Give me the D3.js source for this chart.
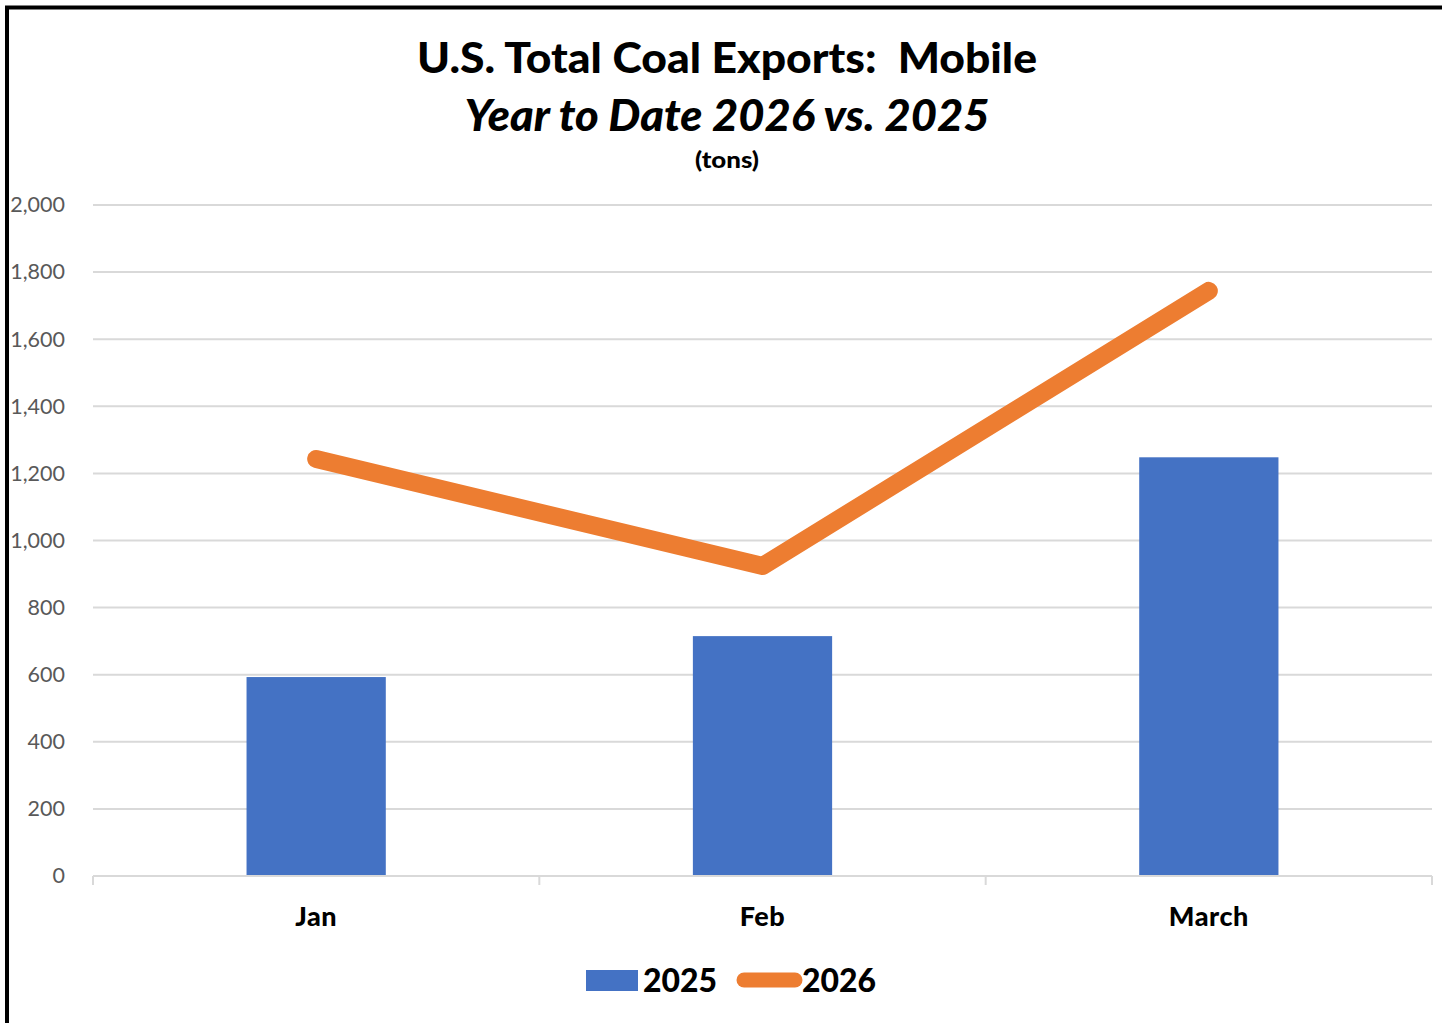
<!DOCTYPE html>
<html><head><meta charset="utf-8">
<script src="https://cdn.jsdelivr.net/npm/d3@7"></script>
<style>body{margin:0;background:#fff}svg{display:block}</style>
</head><body>
<script>
const categories = ["Jan", "Feb", "March"];
const values2025 = [593, 715, 1248];
const values2026 = [1243, 924, 1744];
const yTicks = [0, 200, 400, 600, 800, 1000, 1200, 1400, 1600, 1800, 2000];
const seriesNames = ["2025", "2026"];
const titleLines = ["U.S. Total Coal Exports:  Mobile", "Year to Date 2026 vs. 2025", "(tons)"];

const W = 1442, H = 1023;
const svg = d3.select("body").append("svg").attr("width", W).attr("height", H);
const font = "Lato, 'Open Sans', sans-serif";

// frame
svg.append("rect").attr("x", 7).attr("y", 7.5).attr("width", W + 20).attr("height", H + 20)
  .attr("fill", "none").attr("stroke", "#000").attr("stroke-width", 4);

const x = d3.scaleBand().domain(categories).range([93, 1432]).paddingInner(0.688).paddingOuter(0.344);
const xc = d => d3.scalePoint().domain(categories).range([93, 1432]).padding(0.5)(d);
const y = d3.scaleLinear().domain([0, 2000]).range([876, 205]);

// gridlines
svg.append("g").selectAll("line").data(yTicks.filter(t => t > 0)).join("line")
  .attr("x1", 93).attr("x2", 1432).attr("y1", d => y(d)).attr("y2", d => y(d))
  .attr("stroke", "#d9d9d9").attr("stroke-width", 2);

// y axis labels
const yAxis = d3.axisLeft(y).tickValues(yTicks).tickSize(0).tickPadding(0).tickFormat(d3.format(","));
const gy = svg.append("g").attr("transform", "translate(65,0)").call(yAxis);
gy.select(".domain").remove();
gy.selectAll("text").attr("font-family", font).attr("font-size", 21.5).attr("fill", "#595959");

// bars
svg.append("g").selectAll("rect").data(values2025).join("rect")
  .attr("x", (d, i) => x(categories[i])).attr("width", x.bandwidth())
  .attr("y", d => y(d)).attr("height", d => y(0) - y(d)).attr("fill", "#4472c4");

// x axis
const xTickScale = d3.scaleLinear().domain([0, 3]).range([93, 1432]);
const gx = svg.append("g").attr("transform", "translate(0,876)");
gx.append("line").attr("x1", 93).attr("x2", 1432).attr("stroke", "#d9d9d9").attr("stroke-width", 2);
gx.selectAll("line.tk").data([0, 1, 2, 3]).join("line").attr("class", "tk")
  .attr("x1", d => xTickScale(d)).attr("x2", d => xTickScale(d)).attr("y1", 0).attr("y2", 9)
  .attr("stroke", "#d9d9d9").attr("stroke-width", 2);
gx.selectAll("text").data(categories).join("text")
  .attr("x", d => xc(d)).attr("y", 50).attr("text-anchor", "middle")
  .attr("font-family", font).attr("font-weight", "900").attr("font-size", 27).attr("fill", "#000")
  .attr("letter-spacing", 0.5)
  .text(d => d);

// line
const line = d3.line().x((d, i) => xc(categories[i])).y(d => y(d));
svg.append("path").datum(values2026).attr("d", line).attr("fill", "none")
  .attr("stroke", "#ed7d31").attr("stroke-width", 18).attr("stroke-linecap", "round").attr("stroke-linejoin", "round");

// title
svg.append("text").attr("x", 727).attr("y", 73).attr("text-anchor", "middle")
  .attr("font-family", font).attr("font-weight", "900").attr("font-size", 42).attr("fill", "#000")
  .attr("textLength", 620).attr("lengthAdjust", "spacingAndGlyphs").style("white-space", "pre").text(titleLines[0]);
svg.append("text").attr("x", 727).attr("y", 131).attr("text-anchor", "middle")
  .attr("font-family", font).attr("font-weight", "900").attr("font-style", "italic").attr("font-size", 43).attr("fill", "#000")
  .attr("textLength", 525).attr("lengthAdjust", "spacingAndGlyphs").text(titleLines[1]);
svg.append("text").attr("x", 727).attr("y", 168).attr("text-anchor", "middle")
  .attr("font-family", font).attr("font-weight", "900").attr("font-size", 23).attr("fill", "#000")
  .attr("textLength", 64).attr("lengthAdjust", "spacingAndGlyphs")
  .text(titleLines[2]);

// legend
const lg = svg.append("g");
lg.append("rect").attr("x", 586).attr("y", 970).attr("width", 52).attr("height", 21).attr("fill", "#4472c4");
lg.append("text").attr("x", 643).attr("y", 992).attr("font-family", font).attr("font-weight", "900")
  .attr("font-size", 33).attr("fill", "#000").attr("textLength", 74).attr("lengthAdjust", "spacingAndGlyphs").text(seriesNames[0]);
lg.append("line").attr("x1", 744).attr("x2", 795).attr("y1", 980).attr("y2", 980)
  .attr("stroke", "#ed7d31").attr("stroke-width", 15).attr("stroke-linecap", "round");
lg.append("text").attr("x", 802).attr("y", 992).attr("font-family", font).attr("font-weight", "900")
  .attr("font-size", 33).attr("fill", "#000").attr("textLength", 74).attr("lengthAdjust", "spacingAndGlyphs").text(seriesNames[1]);
</script>
</body></html>
